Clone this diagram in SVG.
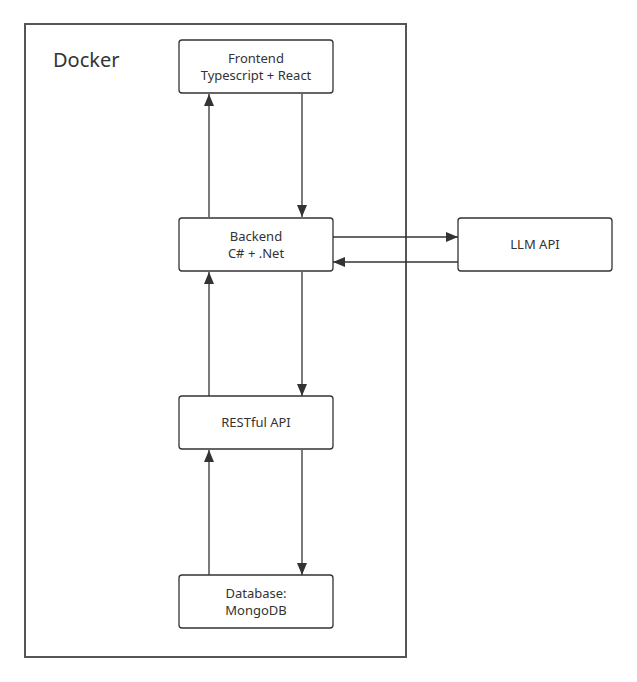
<svg xmlns="http://www.w3.org/2000/svg" width="637" height="682" viewBox="0 0 637 682">
<style>
.box{fill:#fff;stroke:#333;stroke-width:1.3}
.t{font-family:"Noto Sans","Open Sans",sans-serif;font-size:13px;fill:#333;text-anchor:middle}
.c{stroke:#333;stroke-width:1.3;fill:none;marker-end:url(#a)}
</style>
<defs>
<marker id="a" markerUnits="userSpaceOnUse" markerWidth="12" markerHeight="12" viewBox="0 0 12 12" refX="12" refY="6" orient="auto">
<path d="M0,1 L12,6 L0,11 Z" fill="#333"/>
</marker>
</defs>
<rect width="637" height="682" fill="#fff"/>
<g id="docker">
<rect x="25" y="24" width="381" height="633" fill="#fff" stroke="#555" stroke-width="2"/>
<text x="53" y="67" font-family="Noto Sans,Open Sans,sans-serif" font-size="20" fill="#333">Docker</text>
</g>
<g id="connectors">
<line class="c" x1="209" y1="217" x2="209" y2="94"/>
<line class="c" x1="302" y1="94" x2="302" y2="217"/>
<line class="c" x1="209" y1="396" x2="209" y2="272"/>
<line class="c" x1="302" y1="272" x2="302" y2="396"/>
<line class="c" x1="209" y1="575" x2="209" y2="450"/>
<line class="c" x1="302" y1="450" x2="302" y2="575"/>
<line class="c" x1="333" y1="237" x2="458" y2="237"/>
<line class="c" x1="458" y1="262" x2="333" y2="262"/>
</g>
<g id="frontend">
<rect class="box" x="179" y="40" width="154" height="53" rx="3"/>
<text class="t" x="256" y="63">Frontend</text>
<text class="t" x="256" y="80">Typescript + React</text>
</g>
<g id="backend">
<rect class="box" x="179" y="218" width="154" height="53" rx="3"/>
<text class="t" x="256" y="241">Backend</text>
<text class="t" x="256" y="258">C# + .Net</text>
</g>
<g id="llm">
<rect class="box" x="458" y="218" width="154" height="53" rx="3"/>
<text class="t" x="535" y="249">LLM API</text>
</g>
<g id="restful">
<rect class="box" x="179" y="396" width="154" height="53" rx="3"/>
<text class="t" x="256" y="427">RESTful API</text>
</g>
<g id="database">
<rect class="box" x="179" y="575" width="154" height="53" rx="3"/>
<text class="t" x="256" y="598">Database:</text>
<text class="t" x="256" y="615">MongoDB</text>
</g>
</svg>
